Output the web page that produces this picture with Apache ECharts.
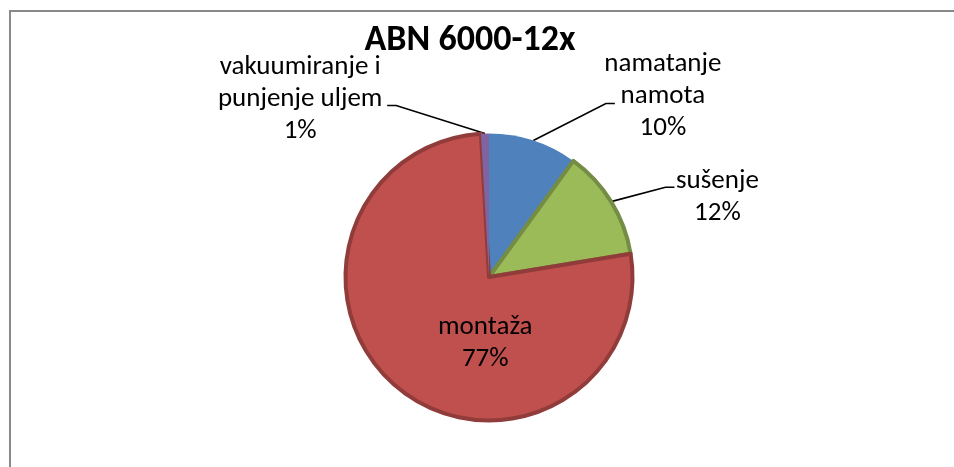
<!DOCTYPE html>
<html>
<head>
<meta charset="utf-8">
<script src="https://cdn.jsdelivr.net/npm/echarts@6/dist/echarts.min.js"></script>
<style>html,body{margin:0;padding:0;background:#fff;}#c{width:954px;height:467px;}</style>
</head>
<body>
<div id="c"></div>
<script>
var titleText = 'ABN 6000-12x';
var categories = ['namatanje\nnamota', 'sušenje', 'montaža', 'vakuumiranje i\npunjenje uljem'];
var values = [10, 12.4, 76.7, 0.9];
var colors = ['#4f81bd', '#9bbb59', '#c0504d', '#8064a2'];

var FONT = 'Carlito, Lato, sans-serif';
var LS = 27;
function rs(w) { return {width: w, align: 'center', lineHeight: 32, fontSize: LS, fontFamily: FONT, color: '#000'}; }

var itemCfg = [
  {borderWidth: 0, len: 38.9, len2: 69.5, dist: -17, pad: [0, 0, 14, 0]},
  {borderWidth: 4, borderColor: '#748c43', len: 27.4, len2: 40, dist: -7, pad: [21, 0, 0, 0]},
  {borderWidth: 4, borderColor: '#903c3a', inside: true},
  {borderWidth: 0, len: 28, len2: 97, dist: -3, pad: [0, 0, 12, 0]}
];

var data = categories.map(function (n, i) {
  var c = itemCfg[i];
  var d = {
    name: n, value: values[i],
    itemStyle: {color: colors[i], borderWidth: c.borderWidth, borderColor: c.borderColor || colors[i]}
  };
  if (c.inside) {
    d.label = {position: 'inside'};
    d.labelLine = {show: false};
  } else {
    d.label = {position: 'outside', distanceToLabelLine: c.dist, padding: c.pad};
    d.labelLine = {show: true, length: c.len, length2: c.len2};
  }
  return d;
});

var chart = echarts.init(document.getElementById('c'), null, {renderer: 'canvas'});
chart.setOption({
  animation: false,
  backgroundColor: '#fff',
  title: {
    text: titleText, left: 470, top: 23, padding: 0, textAlign: 'center',
    textStyle: {fontFamily: FONT, fontSize: 36, fontWeight: 'bold', color: '#000'}
  },
  graphic: [{
    type: 'rect', silent: true,
    shape: {x: 10, y: 11, width: 1000, height: 1000},
    style: {fill: null, stroke: '#898989', lineWidth: 2}
  }],
  series: [{
    type: 'pie',
    center: [489, 277],
    radius: 143.5,
    startAngle: 90,
    clockwise: true,
    avoidLabelOverlap: false,
    percentPrecision: 0,
    data: data,
    label: {
      formatter: function (p) {
        var lines = p.name.split('\n');
        lines.push(p.percent + '%');
        return lines.map(function (l) { return '{w' + p.dataIndex + '|' + l + '}'; }).join('\n');
      },
      rich: {w0: rs(130), w1: rs(100), w2: rs(130), w3: rs(180)}
    },
    labelLine: {lineStyle: {color: '#000', width: 1.6}},
    labelLayout: function (p) {
      if (p.dataIndex === 2) return {dx: 43, dy: 8};
      var pts = p.labelLinePoints;
      if (!pts) return {};
      var end = pts[2];
      var s = end[0] > pts[0][0] ? 1 : -1;
      return {labelLinePoints: [pts[0], [end[0] - s * 9, end[1]], end]};
    },
    emphasis: {disabled: true}
  }]
});
</script>
</body>
</html>
